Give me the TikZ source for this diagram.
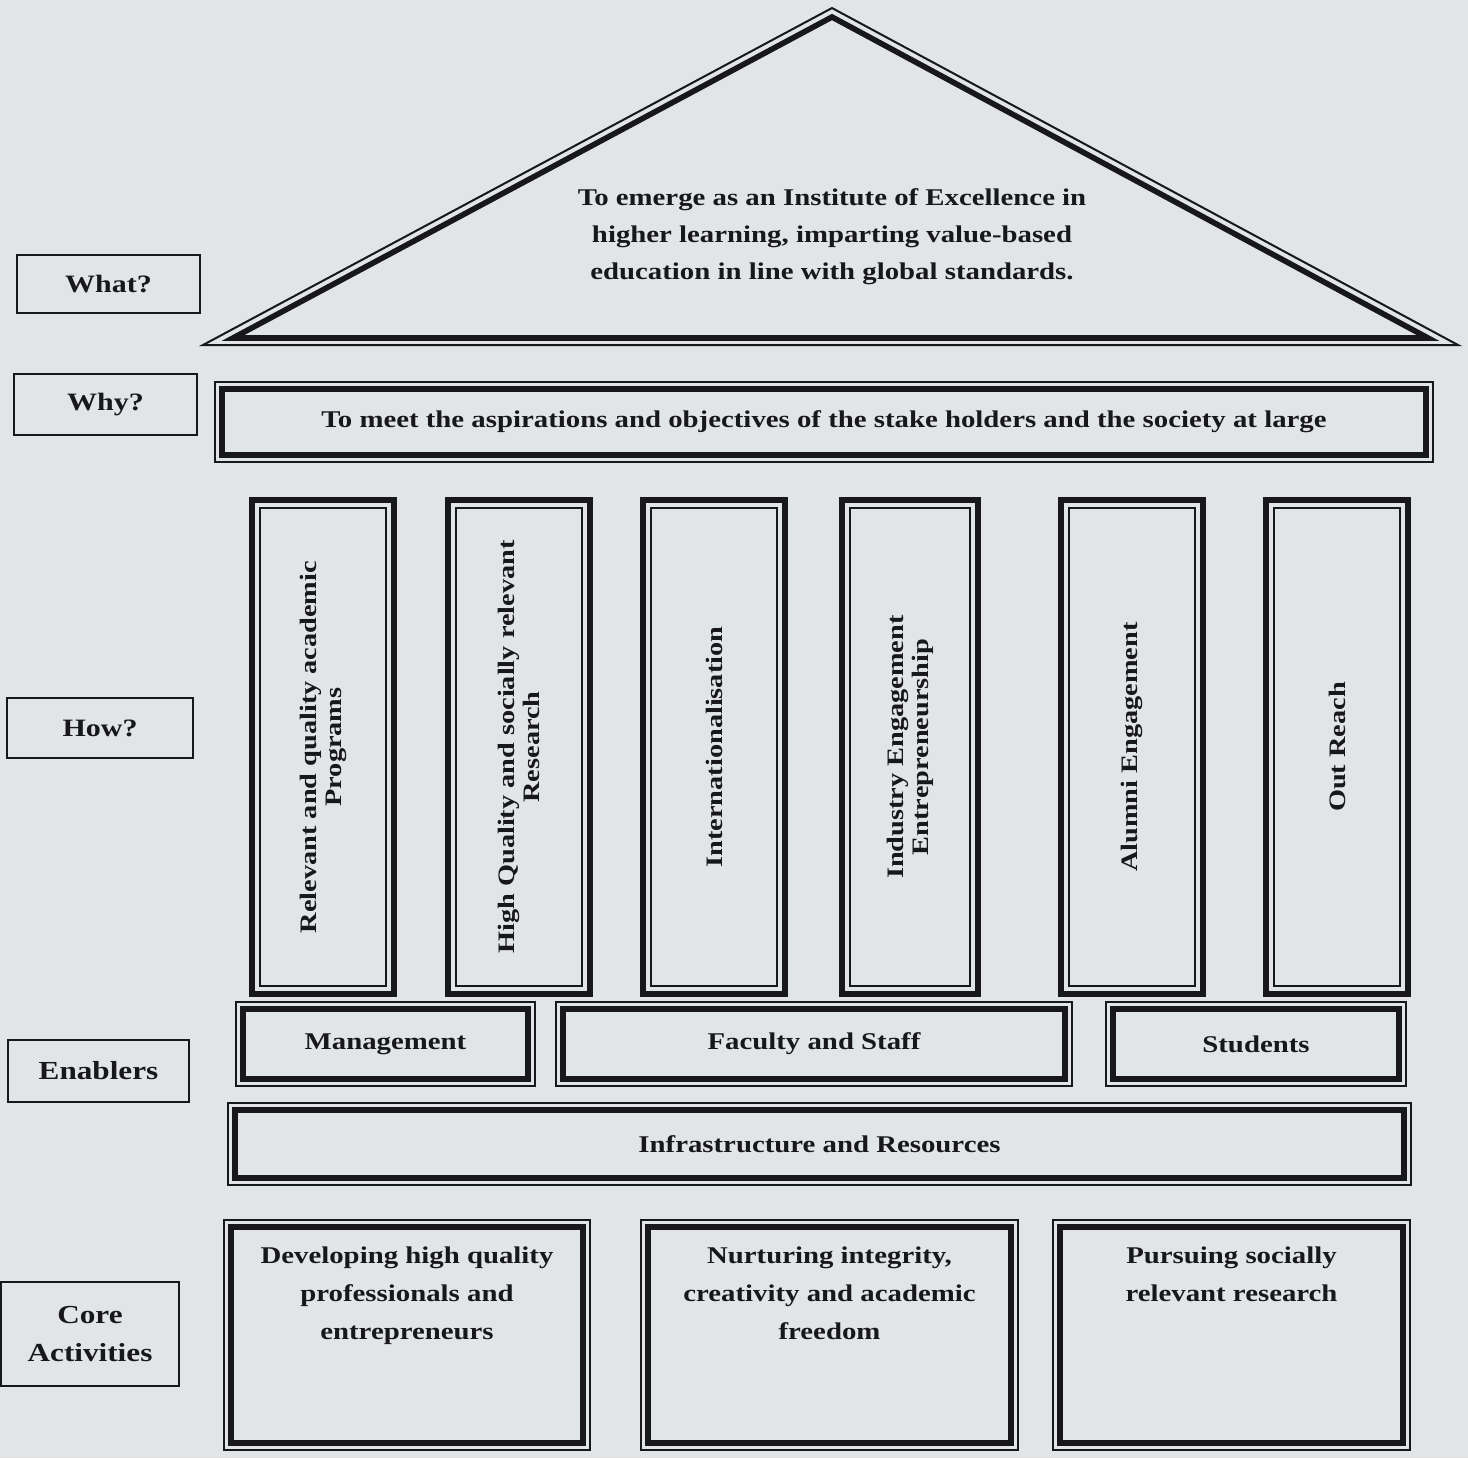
\documentclass[tikz,border=0pt]{standalone}
\usepackage{fontspec}
\usetikzlibrary{positioning}
\setmainfont{Liberation Serif}[FakeStretch=1.2]
\definecolor{ink}{RGB}{24,24,28}
\definecolor{paper}{RGB}{226,229,232}
\tikzset{
  thinline/.style={draw=ink, line width=1pt},
  thickline/.style={draw=ink, line width=2.8pt},
  body/.style={text=ink, align=center, inner sep=0pt, font=\bfseries\fontsize{12}{18.5}\selectfont},
  tag/.style={thinline, outer sep=0pt, text=ink, align=center, font=\bfseries\fontsize{12.5}{19}\selectfont},
  pillar/.style={thickline, outer sep=0pt, minimum width=71pt, minimum height=247pt},
  pillartext/.style={body, rotate=90, font=\bfseries\fontsize{11.8}{12.5}\selectfont},
  frame/.style={thinline, outer sep=0pt}
}
\begin{document}
\begin{tikzpicture}[x=0.5pt, y=-0.5pt]
  \fill[paper] (0,0) rectangle (1468,1458);
  \useasboundingbox (0,0) rectangle (1468,1458);

  % left column
  \node[tag, minimum width=91.5pt, minimum height=29pt] (what) at (108.5,284) {What?};
  \node[tag, minimum width=91.5pt, minimum height=30.5pt] (why) at (105.5,404.5) {Why?};
  \node[tag, minimum width=93pt, minimum height=30pt] (how) at (100,728) {How?};
  \node[tag, minimum width=90.5pt, minimum height=31pt, font=\bfseries\fontsize{13}{19}\selectfont] (enab) at (98.5,1071) {Enablers};
  \node[tag, minimum width=89pt, minimum height=52pt, font=\bfseries\fontsize{13}{19}\selectfont] (core) at (90,1334) {Core\\Activities};

  % roof
  \coordinate (apex) at (832,8);
  \coordinate (eaveL) at (203,345);
  \coordinate (eaveR) at (1458,345);
  \coordinate (apexIn) at (832,17);
  \coordinate (eaveLIn) at (233,338);
  \coordinate (eaveRIn) at (1428,338);
  \draw[thinline, line join=miter] (apex) -- (eaveL) -- (eaveR) -- cycle;
  \draw[thickline, line join=miter] (apexIn) -- (eaveLIn) -- (eaveRIn) -- cycle;
  \node[body] (vision) at (832,237) {To emerge as an Institute of Excellence in\\higher learning, imparting value-based\\education in line with global standards.};

  % beam
  \node[frame, minimum width=609pt, minimum height=40pt, body] (mission) at (824,422)
    {To meet the aspirations and objectives of the stake holders and the society at large};

  % pillars
  \node[pillar] (p1) at (323,747) {};
  \node[pillar] (p2) at (519,747) {};
  \node[pillar] (p3) at (714,747) {};
  \node[pillar, minimum width=68pt] (p4) at (910,747) {};
  \node[pillar] (p5) at (1132,747) {};
  \node[pillar] (p6) at (1337,747) {};
  \foreach \n in {p1,p2,p3,p4,p5,p6}
    \draw[thinline] ([shift={(8,8)}]\n.north west) rectangle ([shift={(-8,-8)}]\n.south east);
  \node[pillartext] (t1) at (p1) {Relevant and quality academic\\Programs};
  \node[pillartext] (t2) at (p2) {High Quality and socially relevant\\Research};
  \node[pillartext] (t3) at (p3) {Internationalisation};
  \node[pillartext] (t4) at (p4) {Industry Engagement\\Entrepreneurship};
  \node[pillartext] (t5) at (p5) {Alumni Engagement};
  \node[pillartext] (t6) at (p6) {Out Reach};

  % enablers
  \node[frame, body, minimum width=149.5pt, minimum height=42pt] (mgmt) at (385.5,1044) {Management};
  \node[frame, body, minimum width=258pt, minimum height=42pt] (staff) at (814,1044) {Faculty and Staff};
  \node[frame, body, minimum width=150pt, minimum height=42pt] (stud) at (1256,1044) {Students};
  \node[frame, body, minimum width=591.5pt, minimum height=41pt] (infra) at (819.5,1144) {Infrastructure and Resources};

  % core activities
  \node[frame, minimum width=183pt, minimum height=115pt] (c1) at (407,1335) {};
  \node[frame, minimum width=188.5pt, minimum height=115pt] (c2) at (829.5,1335) {};
  \node[frame, minimum width=178.5pt, minimum height=115pt] (c3) at (1231.5,1335) {};
  \node[body, font=\bfseries\fontsize{12}{19}\selectfont, below=13pt of c1.north] (ct1) {Developing high quality\\professionals and\\entrepreneurs};
  \node[body, font=\bfseries\fontsize{12}{19}\selectfont, below=13pt of c2.north] (ct2) {Nurturing integrity,\\creativity and academic\\freedom};
  \node[body, font=\bfseries\fontsize{12}{19}\selectfont, below=13pt of c3.north] (ct3) {Pursuing socially\\relevant research};

  \foreach \n in {mission,mgmt,staff,stud,infra,c1,c2,c3}
    \draw[thickline] ([shift={(7,7)}]\n.north west) rectangle ([shift={(-7,-7)}]\n.south east);
\end{tikzpicture}
\end{document}
